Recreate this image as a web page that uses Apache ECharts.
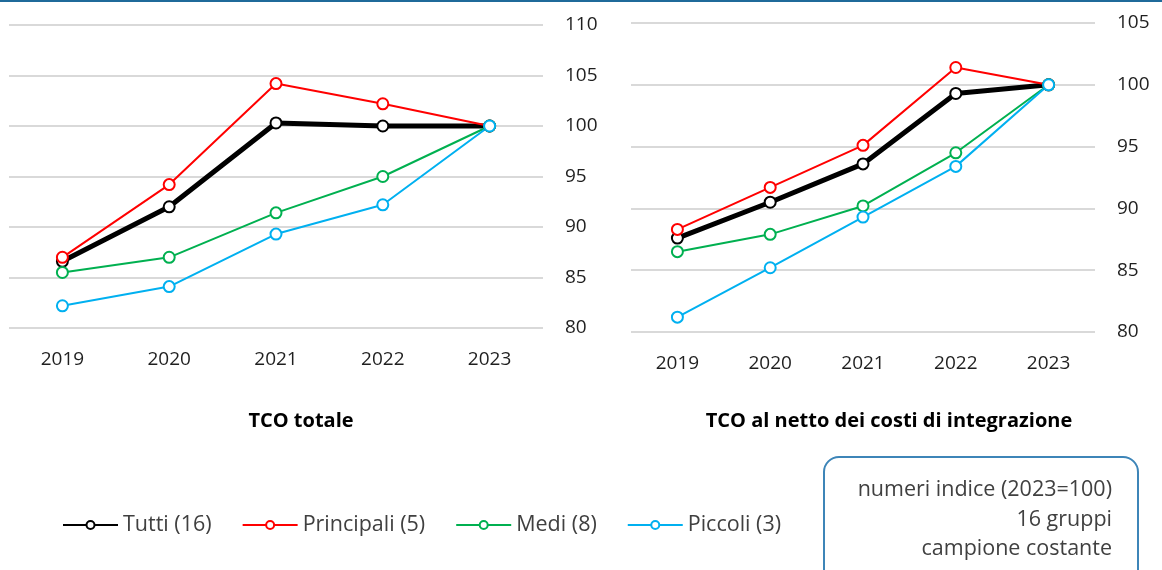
<!DOCTYPE html>
<html>
<head>
<meta charset="utf-8">
<script src="https://cdn.jsdelivr.net/npm/echarts@6/dist/echarts.min.js"></script>
<style>
  html, body { margin: 0; padding: 0; background: #fff; }
  #chart { width: 1162px; height: 570px; }
</style>
</head>
<body>
<div id="chart"></div>
<script>
// categories
var years = ['2019', '2020', '2021', '2022', '2023'];
var seriesNames = ['Tutti (16)', 'Principali (5)', 'Medi (8)', 'Piccoli (3)'];

// TCO totale
var totTutti = [86.6, 92.0, 100.3, 100.0, 100];
var totPrincipali = [87.0, 94.2, 104.2, 102.2, 100];
var totMedi = [85.5, 87.0, 91.4, 95.0, 100];
var totPiccoli = [82.2, 84.1, 89.3, 92.2, 100];

// TCO al netto dei costi di integrazione
var netTutti = [87.6, 90.5, 93.6, 99.3, 100];
var netPrincipali = [88.3, 91.7, 95.1, 101.4, 100];
var netMedi = [86.5, 87.9, 90.2, 94.5, 100];
var netPiccoli = [81.2, 85.2, 89.3, 93.4, 100];

var noteLines = ['numeri indice (2023=100)', '16 gruppi', 'campione costante'];

var colors = ['#000000', '#ff0000', '#00b050', '#00b0f0'];
var widths = [5, 2, 2, 2];
var font = '"Open Sans"';

function makeSeries(idx, values, axisIdx) {
  return {
    name: seriesNames[idx],
    type: 'line',
    xAxisIndex: axisIdx,
    yAxisIndex: axisIdx,
    data: values,
    symbol: 'circle',
    symbolSize: 11,
    showAllSymbol: true,
    lineStyle: { color: colors[idx], width: widths[idx] },
    itemStyle: { color: '#ffffff', borderColor: colors[idx], borderWidth: 2 },
    emphasis: { disabled: true }
  };
}

function yAxisFor(gridIdx, max) {
  return {
    type: 'value',
    gridIndex: gridIdx,
    position: 'right',
    min: 80,
    max: max,
    interval: 5,
    axisLine: { show: false },
    axisTick: { show: false },
    axisLabel: { color: '#1f1f1f', fontSize: 19, fontFamily: font, margin: 22 },
    splitLine: { lineStyle: { color: '#d9d9d9', width: 2 } }
  };
}

function xAxisFor(gridIdx) {
  return {
    type: 'category',
    gridIndex: gridIdx,
    data: years,
    axisLine: { show: false },
    axisTick: { show: false },
    axisLabel: { color: '#1f1f1f', fontSize: 19, fontFamily: font, margin: 22 }
  };
}

function noteText(i, y) {
  return {
    type: 'text', x: 1112, y: y,
    style: { text: noteLines[i], font: '21.5px ' + font, fill: '#404040', align: 'right', verticalAlign: 'middle', textAlign: 'right', textVerticalAlign: 'middle' }
  };
}

var chart = echarts.init(document.getElementById('chart'), null, { renderer: 'canvas' });
chart.setOption({
  animation: false,
  grid: [
    { left: 9, top: 25, width: 534, height: 303 },
    { left: 631, top: 23, width: 464, height: 309 }
  ],
  xAxis: [xAxisFor(0), xAxisFor(1)],
  yAxis: [yAxisFor(0, 110), yAxisFor(1, 105)],
  legend: {
    data: seriesNames,
    left: 57,
    top: 509,
    itemWidth: 55,
    itemHeight: 10,
    itemGap: 30,
    textStyle: { color: '#404040', fontSize: 21.5, fontFamily: font }
  },
  series: [
    makeSeries(0, totTutti, 0),
    makeSeries(1, totPrincipali, 0),
    makeSeries(2, totMedi, 0),
    makeSeries(3, totPiccoli, 0),
    makeSeries(0, netTutti, 1),
    makeSeries(1, netPrincipali, 1),
    makeSeries(2, netMedi, 1),
    makeSeries(3, netPiccoli, 1)
  ],
  graphic: [
    { type: 'rect', shape: { x: 0, y: 0, width: 1162, height: 2 }, style: { fill: '#1f6a9a' } },
    { type: 'text', x: 301, y: 421, style: { text: 'TCO totale', font: 'bold 20px ' + font, fill: '#000', align: 'center', verticalAlign: 'middle', textAlign: 'center', textVerticalAlign: 'middle' } },
    { type: 'text', x: 889, y: 421, style: { text: 'TCO al netto dei costi di integrazione', font: 'bold 20px ' + font, fill: '#000', align: 'center', verticalAlign: 'middle', textAlign: 'center', textVerticalAlign: 'middle' } },
    { type: 'rect', shape: { x: 824, y: 457, width: 314, height: 140, r: 15 }, style: { fill: '#fff', stroke: '#3d85b8', lineWidth: 2 } },
    noteText(0, 490),
    noteText(1, 520),
    noteText(2, 549)
  ]
});
</script>
</body>
</html>
